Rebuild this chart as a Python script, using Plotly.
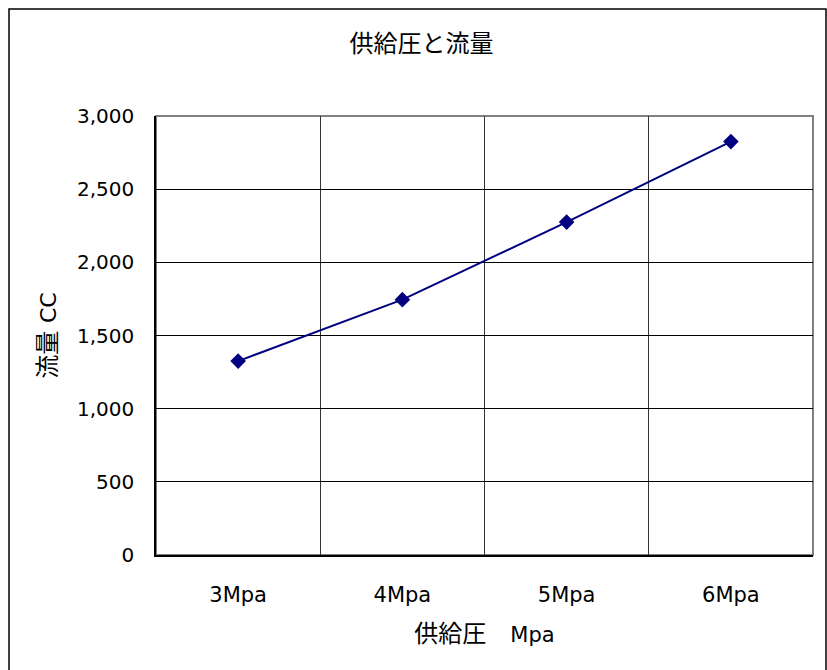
import plotly.graph_objects as go

categories = ["3Mpa", "4Mpa", "5Mpa", "6Mpa"]
flow_cc = [1325, 1745, 2275, 2825]

FONT = "DejaVu Sans, Noto Sans CJK JP"
CJK = "Noto Sans CJK JP"
W, H = 827, 670
L, R, T, B = 156, 14, 116, 115
pw, ph = W - L - R, H - T - B

fig = go.Figure()
fig.add_trace(go.Scatter(
    x=categories, y=flow_cc, mode="lines+markers",
    line=dict(color="#000080", width=2),
    marker=dict(symbol="diamond", size=12, color="#000080"),
    showlegend=False,
))

def px_x(v):
    return (v - L) / pw

def px_y(v):
    return (H - B - v) / ph

fig.update_layout(
    width=W, height=H,
    margin=dict(l=L, r=R, t=T, b=B),
    paper_bgcolor="white", plot_bgcolor="white",
    font=dict(family=FONT, color="black", size=20),
    title=dict(text="供給圧と流量", x=421.5 / W, xanchor="center",
               y=1 - 44 / H, yanchor="middle",
               font=dict(size=24, family=CJK, color="black")),
    xaxis=dict(
        type="category", range=[-0.5, 3.5], tickson="boundaries",
        showgrid=True, gridcolor="#333333", gridwidth=1,
        showline=True, linecolor="black", linewidth=1.5,
        ticks="", ticklabelstandoff=20, tickfont=dict(size=21),
        title=dict(text='<span style="font-size:24px">供給圧\u3000</span>'
                        '<span style="font-size:21px">Mpa</span>',
                   standoff=21, font=dict(size=21)),
        zeroline=False,
    ),
    yaxis=dict(
        range=[0, 3000], dtick=500, tickformat=",",
        showgrid=True, gridcolor="black", gridwidth=1,
        showline=True, linecolor="black", linewidth=1.5,
        ticks="", ticklabelstandoff=16, tickfont=dict(size=20),
        title=dict(text='<span style="font-size:24px">流量 </span>'
                        '<span style="font-size:22px">CC</span>',
                   standoff=14, font=dict(size=22)),
        zeroline=False,
    ),
    shapes=[
        dict(type="rect", xref="paper", yref="paper",
             x0=0, x1=1, y0=0, y1=1,
             line=dict(color="#808080", width=2), layer="below"),
        dict(type="rect", xref="paper", yref="paper",
             x0=px_x(9), x1=px_x(826), y0=px_y(680), y1=px_y(9),
             line=dict(color="black", width=1.5), layer="below"),
    ],
)

fig.write_html("out.html")
